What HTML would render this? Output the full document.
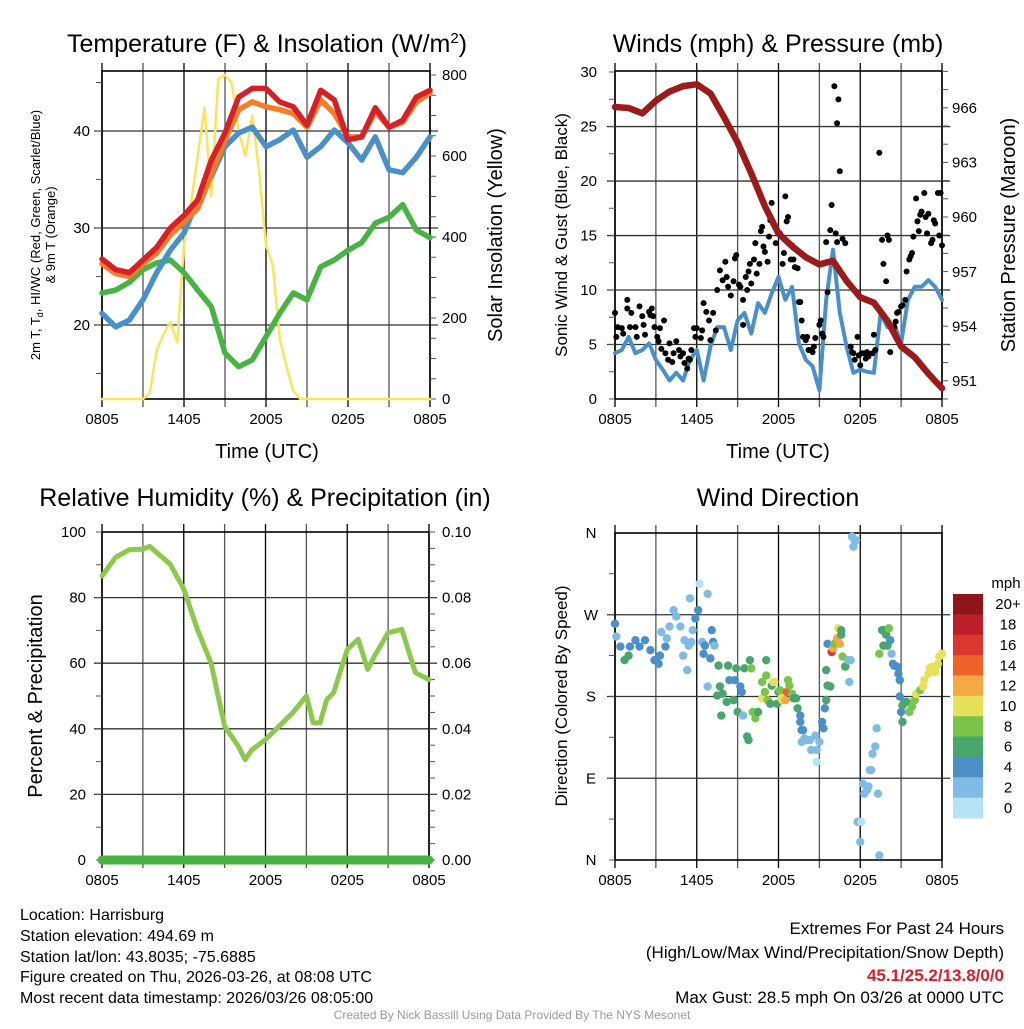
<!DOCTYPE html>
<html><head><meta charset="utf-8"><style>
html,body{margin:0;padding:0;background:#fff;}
svg text{font-family:"Liberation Sans",Arial,sans-serif;fill:#000;}
</style></head><body>
<svg id="chart" width="1024" height="1024" viewBox="0 0 1024 1024" xmlns="http://www.w3.org/2000/svg">
<g id="g1"></g>
<g id="g2"></g>
<g id="g3"></g>
<g id="g4"></g>
<text x="267" y="52" font-size="25" text-anchor="middle">Temperature (F) &amp; Insolation (W/m<tspan dy="-9" font-size="15">2</tspan><tspan dy="9">)</tspan></text>
<text x="778" y="52" font-size="25" text-anchor="middle">Winds (mph) &amp; Pressure (mb)</text>
<text x="265" y="506" font-size="25" text-anchor="middle">Relative Humidity (%) &amp; Precipitation (in)</text>
<text x="778" y="506" font-size="25" text-anchor="middle">Wind Direction</text>
<text x="267" y="458" font-size="20" text-anchor="middle">Time (UTC)</text>
<text x="778" y="458" font-size="20" text-anchor="middle">Time (UTC)</text>
<text transform="translate(40,235) rotate(-90)" font-size="13" text-anchor="middle">2m T, T<tspan dy="3" font-size="9">d</tspan><tspan dy="-3">, HI/WC (Red, Green, Scarlet/Blue)</tspan></text>
<text transform="translate(55,235) rotate(-90)" font-size="13" text-anchor="middle">&amp; 9m T (Orange)</text>
<text transform="translate(502,235) rotate(-90)" font-size="20" text-anchor="middle">Solar Insolation (Yellow)</text>
<text transform="translate(567,235) rotate(-90)" font-size="17" text-anchor="middle">Sonic Wind &amp; Gust (Blue, Black)</text>
<text transform="translate(1015,235) rotate(-90)" font-size="20" text-anchor="middle">Station Pressure (Maroon)</text>
<text transform="translate(42,696) rotate(-90)" font-size="20" text-anchor="middle">Percent &amp; Precipitation</text>
<text transform="translate(567,696) rotate(-90)" font-size="17" text-anchor="middle">Direction (Colored By Speed)</text>
<g font-size="16">
<text x="20" y="920">Location: Harrisburg</text>
<text x="20" y="941">Station elevation: 494.69 m</text>
<text x="20" y="962">Station lat/lon: 43.8035; -75.6885</text>
<text x="20" y="982">Figure created on Thu, 2026-03-26, at 08:08 UTC</text>
<text x="20" y="1003">Most recent data timestamp: 2026/03/26 08:05:00</text>
</g>
<g font-size="17" text-anchor="end">
<text x="1004" y="934">Extremes For Past 24 Hours</text>
<text x="1004" y="958">(High/Low/Max Wind/Precipitation/Snow Depth)</text>
<text x="1004" y="981" font-weight="bold" style="fill:#d62027">45.1/25.2/13.8/0/0</text>
<text x="1004" y="1003">Max Gust: 28.5 mph On 03/26 at 0000 UTC</text>
</g>
<text x="512" y="1019" font-size="12" text-anchor="middle" style="fill:#999">Created By Nick Bassill Using Data Provided By The NYS Mesonet</text>
</svg>
<script>
// ---- data ----
const hours = [0,1,2,3,4,5,6,7,8,9,10,11,12,13,14,15,16,17,18,19,20,21,22,23,24];
const tempRed = [26.8,25.7,25.4,26.7,28.0,30.0,31.3,32.9,37.0,39.8,43.5,44.4,44.4,43.0,42.5,40.6,44.2,43.2,39.1,39.4,42.4,40.4,41.1,43.5,44.2];
const tempOrange = [26.3,25.3,25.0,26.3,27.4,29.3,30.6,32.0,35.5,39.1,42.2,43.0,42.5,42.2,41.8,40.4,43.2,41.8,39.4,39.4,42.0,40.4,40.9,43.0,43.9];
const tempBlue = [21.2,19.8,20.5,22.6,25.4,27.7,29.5,32.9,35.3,38.4,39.8,40.4,38.4,39.1,40.1,37.3,38.4,40.1,38.8,37.0,39.4,36.0,35.7,37.3,39.4];
const dewGreen = [23.3,23.6,24.4,25.7,26.4,26.7,25.4,23.6,21.9,17.1,15.7,16.4,18.8,21.2,23.3,22.6,26.0,26.7,27.7,28.5,30.5,31.1,32.4,29.8,29.0];
const halfHours = [0,0.5,1,1.5,2,2.5,3,3.5,4,4.5,5,5.5,6,6.5,7,7.5,8,8.5,9,9.5,10,10.5,11,11.5,12,12.5,13,13.5,14,14.5,15,15.5,16,16.5,17,17.5,18,18.5,19,19.5,20,20.5,21,21.5,22,22.5,23,23.5,24];
const solar = [0,0,0,0,0,0,0,15,120,160,190,140,380,480,600,720,500,790,800,780,660,600,700,560,380,330,150,80,20,0,0,0,0,0,0,0,0,0,0,0,0,0,0,0,0,0,0,0,0];
const pressure = [966.05,966.0,965.7,966.4,966.9,967.2,967.3,966.8,965.5,964.1,962.4,960.6,959.1,958.4,957.8,957.4,957.6,956.5,955.6,955.3,954.3,952.9,952.3,951.4,950.6];
const sonicWind = [4.2,4.5,5.7,4.2,4.5,5.1,3.6,2.7,1.7,2.4,1.7,3.6,4.5,1.7,4.8,6.6,6.6,4.5,7.2,7.9,6.0,8.8,7.9,9.7,11.2,9.1,10.3,5.1,3.6,3.0,0.8,9.1,13.7,7.9,4.8,2.4,2.7,2.5,2.4,7.9,6.6,6.9,5.1,9.1,10.3,10.3,10.9,10.3,9.1];
const gustT = [0.0,0.1,0.2,0.5,0.6,0.9,0.9,1.1,1.2,1.5,1.6,1.8,2.0,2.1,2.2,2.5,2.6,2.7,2.8,2.9,3.1,3.2,3.3,3.4,3.6,3.7,3.9,4.0,4.2,4.3,4.5,4.7,4.8,5.0,5.1,5.3,5.4,5.5,5.6,5.8,5.9,6.0,6.3,6.4,6.5,6.7,6.9,7.0,7.2,7.4,7.5,7.7,7.9,8.1,8.2,8.3,8.5,8.7,8.8,8.9,9.1,9.2,9.4,9.4,9.6,9.7,9.8,9.9,10.0,10.2,10.3,10.4,10.6,10.7,10.8,10.9,11.0,11.2,11.3,11.4,11.5,11.6,11.8,11.9,12.1,12.3,12.4,12.5,12.6,12.7,12.9,13.0,13.1,13.2,13.4,13.5,13.6,13.7,13.8,14.0,14.1,14.2,14.3,14.5,14.6,14.7,15.0,15.1,15.2,15.3,15.5,15.6,15.8,15.9,16.1,16.2,16.3,16.3,16.4,16.5,16.7,16.9,17.3,17.4,17.5,17.6,17.8,17.9,18.0,18.1,18.3,18.4,18.5,18.6,18.9,19.0,19.1,19.4,19.6,19.7,19.9,20.0,20.1,20.2,20.5,20.6,20.7,20.8,21.0,21.1,21.3,21.4,21.6,21.7,21.8,21.9,22.1,22.2,22.3,22.4,22.5,22.7,22.8,22.9,23.0,23.2,23.3,23.4,23.5,23.7,23.8,23.9,24.0];
const gustV = [7.9,5.7,6.6,6.5,6.0,9.1,8.3,6.6,7.9,6.6,5.7,8.5,7.6,6.8,5.9,8.0,7.7,8.3,7.6,6.6,5.7,5.3,6.5,4.6,7.2,4.2,3.6,5.1,3.4,4.2,5.3,4.5,3.9,4.2,3.3,2.8,3.7,3.6,4.5,6.5,5.7,6.5,5.6,6.3,8.8,8.0,7.2,5.4,7.9,6.3,10.0,11.8,10.9,12.6,11.2,10.3,9.5,10.8,12.9,13.2,10.5,10.3,9.1,6.8,11.2,10.0,11.7,12.4,10.6,12.8,14.3,11.5,12.4,15.4,15.8,14.0,13.5,12.6,14.9,16.4,18.0,16.1,14.3,15.5,15.2,12.4,13.4,18.6,16.3,16.7,12.8,14.1,12.8,12.1,12.0,8.9,8.9,7.2,5.7,5.4,5.7,4.5,4.5,4.3,4.8,5.6,6.8,7.2,6.0,5.7,14.4,9.8,15.5,17.8,28.7,15.2,14.4,25.3,27.5,20.9,14.7,14.3,4.8,4.3,4.2,3.6,5.7,4.0,3.1,4.2,4.2,3.7,4.3,3.9,4.2,5.9,4.5,22.6,14.6,12.4,10.8,15.0,14.6,4.3,6.6,7.1,7.9,8.0,8.5,8.6,9.1,11.7,12.8,13.1,13.4,14.9,18.4,16.3,15.4,16.9,17.2,18.9,16.7,15.2,17.0,14.3,14.6,16.4,16.1,18.9,15.0,18.9,14.1];
const rhT = [0,1,2,3,3.5,4,5,6,7,8,9,10,10.5,11,12,13,14,15,15.5,16,16.5,17,18,18.8,19.5,20,21,22,23,24];
const rhV = [86.6,92.3,94.6,94.8,95.6,93.8,90.2,82.6,70.3,60.1,40.8,34.7,30.6,33.6,36.7,40.8,44.9,50.0,41.8,41.8,48.9,51.0,64.2,67.3,58.1,62.2,69.3,70.3,57.1,55.0];
const precipT = [0,24];
const precipV = [0,0];
const windT = [0,0.1,0.4,0.7,1.0,1.1,1.5,1.8,2.2,2.6,2.9,3.3,3.2,3.4,3.7,3.8,4.0,4.3,4.5,4.8,5.0,5.1,5.3,5.4,5.5,5.6,5.7,5.9,6.1,6.2,6.4,6.5,6.6,6.8,6.8,7.0,7.1,7.2,7.3,7.5,7.6,7.7,7.8,7.9,8.2,8.3,8.4,8.7,8.8,8.9,9.0,9.2,9.3,9.4,9.5,9.7,9.8,9.9,10.0,10.1,10.3,10.5,10.8,10.8,11.0,11.1,11.1,11.2,11.4,11.5,11.6,11.7,11.9,12.0,12.1,12.2,12.3,12.5,12.6,12.7,12.8,13.0,13.1,13.3,13.4,13.6,13.6,13.7,13.8,13.7,13.9,14.1,14.3,14.4,14.7,14.8,14.8,15.0,15.2,15.3,15.4,15.5,15.5,15.6,15.6,15.8,15.9,16.0,16.1,16.3,16.4,16.5,16.6,16.6,16.7,16.9,16.9,17.1,17.2,17.3,17.4,17.5,17.6,17.7,17.8,18.0,18.1,18.2,18.3,18.5,18.6,18.7,18.8,18.9,19.1,19.2,19.3,19.4,19.4,19.6,19.7,19.8,19.9,20.0,20.1,20.2,20.3,20.4,20.5,20.7,20.8,20.9,20.9,21.0,21.1,21.1,21.3,21.4,21.6,21.8,22.0,22.1,22.4,22.6,22.7,23.0,23.1,23.3,23.5,23.6,23.7,23.8,24.0];
const windDir = [260,246,235,220,225,235,242,235,242,231,220,225,216,251,235,244,257,275,268,257,225,242,209,236,288,240,253,266,275,304,240,227,236,293,191,222,253,240,236,181,214,191,159,183,174,214,198,176,198,211,163,191,185,159,211,136,132,220,211,163,156,163,196,178,185,220,203,176,172,192,196,196,172,185,187,178,176,176,185,198,192,183,178,178,167,159,152,143,143,130,134,132,132,121,137,121,108,130,152,145,167,176,209,238,192,191,229,233,238,244,255,238,253,248,224,213,213,220,196,220,356,345,352,352,42,20,42,84,73,77,81,99,99,117,125,145,73,5,227,253,236,253,248,236,255,242,227,216,214,213,205,198,180,163,152,170,174,174,163,169,176,183,187,191,198,205,211,213,207,214,216,224,227];
const windSpd = [5,3,5,7,7,5,5,5,5,5,5,5,5,3,5,3,3,3,3,3,3,3,3,3,3,3,3,5,5,1,3,5,5,3,3,5,5,5,3,7,7,7,7,7,7,7,5,7,5,7,7,5,5,3,7,7,7,7,9,9,9,7,9,11,9,7,9,9,7,7,11,11,7,7,9,11,11,13,15,9,9,9,7,7,7,5,5,5,5,3,3,3,3,3,3,3,1,3,5,5,5,7,7,5,7,7,17,13,9,13,11,13,7,7,9,7,7,3,3,3,3,3,3,3,3,3,1,3,3,3,3,3,3,3,3,3,3,3,9,7,7,7,7,7,9,5,3,5,5,5,5,5,5,5,7,7,7,7,9,9,9,11,9,11,11,11,11,11,11,11,11,11,11,11,9];
const spdBins = ["0","2","4","6","8","10","12","14","16","18","20+"];
const tickLabels = ["0805","1405","2005","0205","0805"];
const tempTicks = [20,30,40];
const solarTicks = [0,200,400,600,800];
const windTicks = [0,5,10,15,20,25,30];
const presTicks = [951,954,957,960,963,966];
const rhTicks = [0,20,40,60,80,100];
const prTicks = [0,0.02,0.04,0.06,0.08,0.10];
const dirTicks = [0,90,180,270,360];
const dirLabels = ["N","E","S","W","N"];

const NS="http://www.w3.org/2000/svg";
const binColors=["#b5e3f6","#7fbbe4","#4a8fc6","#48a66c","#7cc34c","#e7e05a","#f5a843","#ee6129","#dc3630","#be1e27","#8f1618"];
function mk(parent,tag,attrs){const e=document.createElementNS(NS,tag);for(const k in attrs)e.setAttribute(k,attrs[k]);parent.appendChild(e);return e;}
function lin(d0,d1,r0,r1){return v=>r0+(v-d0)*(r1-r0)/(d1-d0);}
function minorTicks(g,x,y0,y1,step,dir){
  for(let y=y1;y>=y0;y-=step){const l=mk(g,'line',{x1:x,x2:x+dir*6,y1:y,y2:y,stroke:'#555','stroke-width':1});
    
    }
}
function frame(g,P){
  for(let h=0;h<=24;h+=3){const x=P.x(h);
    const l=mk(g,'line',{x1:x,x2:x,y1:P.y0-8,y2:P.y1+8,stroke:(h%6===0?'#000':'#555'),'stroke-width':1.3});
    
    }
  P.hgrid.forEach(y=>{const l=mk(g,'line',{x1:P.x0-8,x2:P.x1+8,y1:y,y2:y,stroke:'#333','stroke-width':1.3});
    
    });
  const r=mk(g,'rect',{x:P.x0,y:P.y0,width:P.x1-P.x0,height:P.y1-P.y0,fill:'none',stroke:'#000','stroke-width':1.6});
  
  
  if(P.xlabels){tickLabels.forEach((s,i)=>{const t=mk(g,'text',{x:P.x(i*6),y:P.y1+25,'font-size':15,'text-anchor':'middle'});t.textContent=s;
    
    });}
}
function ylab(g,x,y,s,anchor){const t=mk(g,'text',{x:x,y:y+5,'font-size':15,'text-anchor':anchor});t.textContent=s;
  
  }
function path(g,xs,ys,X,Y,color,w,name){let d='';xs.forEach((t,i)=>{d+=(i?'L':'M')+X(t).toFixed(1)+','+Y(ys[i]).toFixed(1);});
  const p=mk(g,'path',{d:d,fill:'none',stroke:color,'stroke-width':w,'stroke-linejoin':'round','stroke-linecap':'round'});
  
  }

// Panel 1
{const g=document.getElementById('g1');
 const P={x0:102,x1:430,y0:71,y1:399,xlabels:true};P.x=lin(0,24,P.x0,P.x1);
 const Y=lin(12.37,46.19,399,71),YS=lin(0,810,399,71);
 P.hgrid=tempTicks.map(Y);frame(g,P);
 minorTicks(g,P.x0,P.y0,Y(15),48.5,-1);
 minorTicks(g,P.x1,P.y0,P.y1,20.25,1);
 tempTicks.forEach(v=>ylab(g,90,Y(v),String(v),'end'));
 solarTicks.forEach(v=>ylab(g,442,YS(v),String(v),'start'));
 path(g,halfHours,solar,P.x,YS,'#fde25a',2.5,'solar-line');
 path(g,hours,dewGreen,P.x,Y,'#46b343',5.5,'dewpoint-line');
 path(g,hours,tempBlue,P.x,Y,'#4a90c8',5.5,'windchill-line');
 path(g,hours,tempOrange,P.x,Y,'#f47c2a',5.5,'temp-9m-line');
 path(g,hours,tempRed,P.x,Y,'#d62027',5.5,'temp-2m-line');}
// Panel 2
{const g=document.getElementById('g2');
 const P={x0:615,x1:942,y0:71,y1:399,xlabels:true};P.x=lin(0,24,P.x0,P.x1);
 const Y=lin(0,30.1,399,71),YP=lin(950.01,968.03,399,71);
 P.hgrid=windTicks.slice(1,6).map(Y);frame(g,P);
 minorTicks(g,P.x0,P.y0,P.y1,27.25,-1);
 minorTicks(g,P.x1,P.y0,P.y1,18.2,1);
 windTicks.forEach(v=>ylab(g,597,Y(v),String(v),'end'));
 presTicks.forEach(v=>ylab(g,952,YP(v),String(v),'start'));
 path(g,halfHours,sonicWind,P.x,Y,'#4a90c8',4,'sonic-wind-line');
 gustT.forEach((t,i)=>{const c=mk(g,'circle',{cx:P.x(t),cy:Y(gustV[i]),r:3,fill:'#000'});
   
   });
 path(g,hours,pressure,P.x,YP,'#9b1b1b',6.5,'pressure-line');}
// Panel 3
{const g=document.getElementById('g3');
 const P={x0:102,x1:429,y0:532,y1:860,xlabels:true};P.x=lin(0,24,P.x0,P.x1);
 const Y=lin(0,100,860,532),YR=lin(0,0.1,860,532);
 P.hgrid=rhTicks.slice(1,5).map(Y);frame(g,P);
 minorTicks(g,P.x0,P.y0,P.y1,32.8,-1);
 minorTicks(g,P.x1,P.y0,P.y1,16.4,1);
 rhTicks.forEach(v=>ylab(g,86,Y(v),String(v),'end'));
 prTicks.forEach(v=>ylab(g,442,YR(v),v.toFixed(2),'start'));
 path(g,rhT,rhV,P.x,Y,'#8cc84b',5,'rh-line');
 path(g,precipT,precipV,P.x,YR,'#46b343',9,'precip-line');}
// Panel 4
{const g=document.getElementById('g4');
 const P={x0:615,x1:942,y0:533,y1:860,xlabels:true};P.x=lin(0,24,P.x0,P.x1);
 const Y=lin(0,360,860,533);
 P.hgrid=dirTicks.slice(1,4).map(Y);frame(g,P);
 minorTicks(g,P.x0,P.y0,P.y1,40.9,-1);
 dirTicks.forEach((v,i)=>{const t=mk(g,'text',{x:591,y:Y(v)+5,'font-size':15,'text-anchor':'middle'});t.textContent=dirLabels[i];
   
   });
 windT.forEach((t,i)=>{const b=Math.min(10,Math.floor(windSpd[i]/2));
   const c=mk(g,'circle',{cx:P.x(t),cy:Y(windDir[i]),r:4.2,fill:binColors[b]});
   
   });
 const cb=mk(g,'g',{});
 
 
 const top=594,h=(818-594)/11;
 for(let i=0;i<11;i++){const bi=10-i;
   const r=mk(cb,'rect',{x:953,y:top+i*h,width:30,height:h+0.5,fill:binColors[bi]});
   
   
   const t=mk(cb,'text',{x:1008,y:top+i*h+h/2+5,'font-size':15,'text-anchor':'middle'});t.textContent=spdBins[bi];
   
   }
 const m=mk(cb,'text',{x:1006,y:588,'font-size':15,'text-anchor':'middle'});m.textContent='mph';
 
 }
</script>
</body></html>
